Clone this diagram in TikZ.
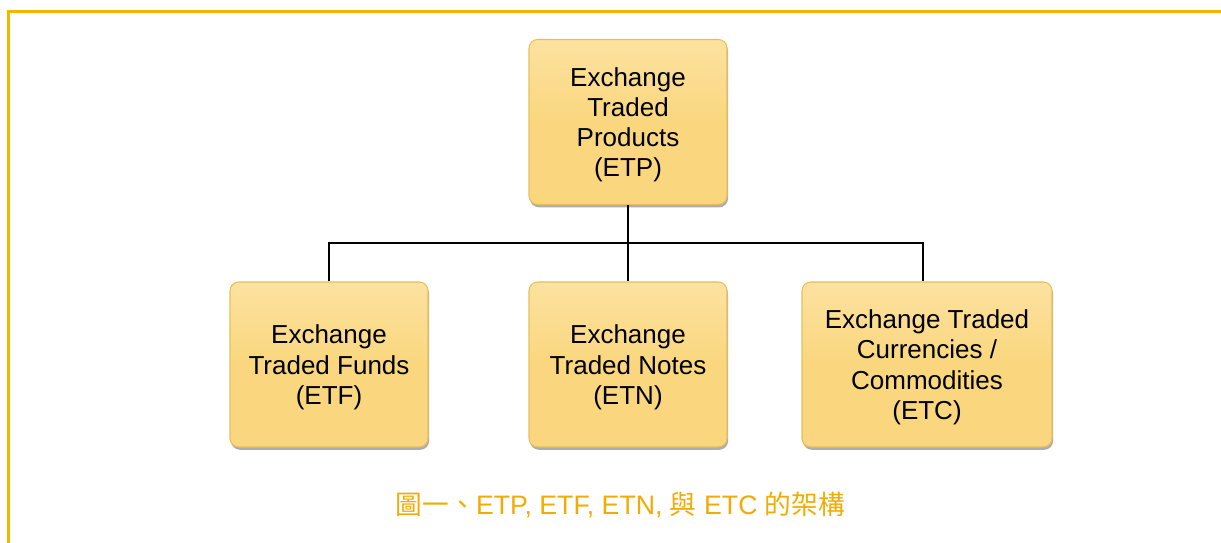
\documentclass[tikz,border=0pt]{standalone}
\usepackage{fontspec}
\setmainfont{Liberation Sans}
\newfontfamily\cjk{Noto Sans CJK TC}
\usetikzlibrary{positioning, shadows}

\definecolor{frameorange}{RGB}{247,181,0}
\definecolor{captionorange}{RGB}{242,172,0}
\definecolor{boxfill}{RGB}{250,215,126}
\definecolor{boxtop}{RGB}{252,226,160}
\definecolor{boxedge}{RGB}{232,190,90}

\newcommand{\lift}{\rule{0pt}{13.9pt}}

\begin{document}
\begin{tikzpicture}[font=\fontsize{14.8}{17.2}\selectfont]

        % Setup the style for the boxes
        \tikzset{box style/.style={rectangle,
                                   rounded corners=5pt,
                                   minimum width=3.96cm,
                                   minimum height=3.3cm,
                                   align=center,
                                   inner sep=0pt,
                                   line width=0.6pt,
                                   draw=boxedge,
                                   top color=boxtop,
                                   bottom color=boxfill,
                                   middle color=boxfill,
                                   drop shadow={shadow xshift=0.6pt,
                                                shadow yshift=-1.6pt,
                                                fill=black!40,
                                                opacity=0.8}},
                 link/.style={line width=1.1pt, draw=black}}

        % Fix the page and draw the frame
        \useasboundingbox (0, 0) rectangle (24.42, 10.86);
        \draw[frameorange, line width=0.06cm]
            (0.18, 0) -- (0.18, 10.63) -- (24.42, 10.63);

        % Draw the boxes
        \node[box style] at (12.56, 8.42)  (ETP)
            {\lift Exchange\\Traded\\Products\\(ETP)};
        \node[box style] at (6.58, 3.57)   (ETF)
            {\lift Exchange\\Traded Funds\\(ETF)};
        \node[box style] at (12.56, 3.57)  (ETN)
            {\lift Exchange\\Traded Notes\\(ETN)};
        \node[box style, minimum width=5cm] at (18.54, 3.57) (ETC)
            {\lift Exchange Traded\\Currencies /\\Commodities\\(ETC)};

        % Connect the boxes
        \coordinate (split) at (12.56, 6.0);
        \draw[link] (ETP.south) -- (split);
        \draw[link] (ETF.north) |- (split) -| ([xshift=-0.08cm]ETC.north);
        \draw[link] (split) -- (ETN.north);

        % Caption
        \node[text=captionorange, font=\fontsize{15.2}{18}\selectfont]
            at (12.41, 0.76) (caption)
            {{\cjk 圖一、}ETP, ETF, ETN, {\cjk 與} ETC {\cjk 的架構}};
    \end{tikzpicture}
\end{document}
